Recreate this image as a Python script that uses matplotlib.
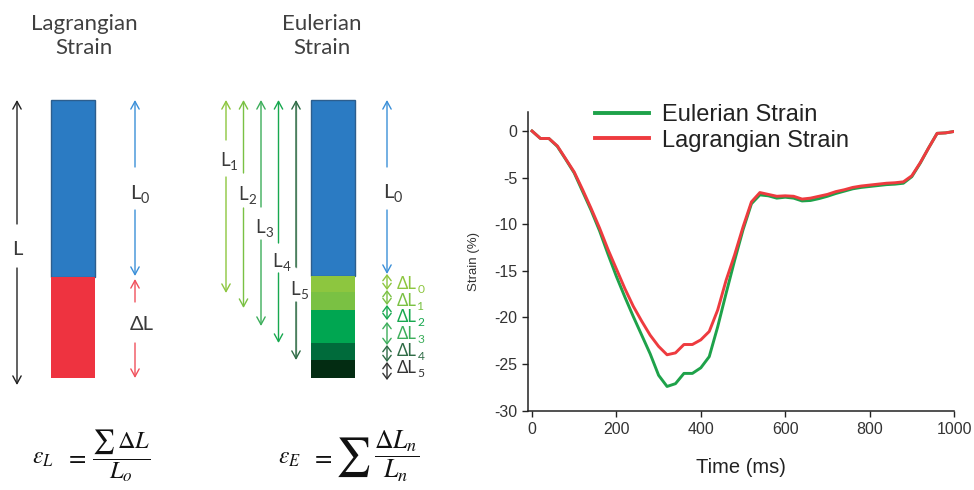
import matplotlib
matplotlib.use("Agg")
import matplotlib.pyplot as plt

# ---------------- data ----------------
time_ms = [0, 20, 40, 60, 80, 100, 120, 140, 160, 180, 200, 220, 240, 260, 280, 300,
           320, 340, 360, 380, 400, 420, 440, 460, 480, 500, 520, 540, 560, 580, 600,
           620, 640, 660, 680, 700, 720, 740, 760, 780, 800, 820, 840, 860, 880, 900,
           920, 940, 960, 980, 1000]
lagrangian = [0, -0.8, -0.8, -1.6, -3.0, -4.4, -6.3, -8.3, -10.4, -12.7, -14.8, -16.9,
              -18.8, -20.4, -21.9, -23.1, -24.0, -23.8, -22.9, -22.9, -22.4, -21.5,
              -19.2, -16.0, -13.3, -10.3, -7.6, -6.6, -6.8, -7.0, -6.95, -7.0, -7.3,
              -7.2, -7.0, -6.8, -6.5, -6.3, -6.05, -5.9, -5.8, -5.7, -5.6, -5.55, -5.45,
              -4.8, -3.4, -1.8, -0.25, -0.2, -0.05]
eulerian = [0, -0.8, -0.8, -1.65, -3.05, -4.5, -6.5, -8.5, -10.7, -13.2, -15.6, -17.8,
            -19.9, -21.9, -23.9, -26.2, -27.4, -27.1, -26.0, -26.0, -25.4, -24.2,
            -21.0, -17.4, -13.9, -10.6, -7.8, -6.85, -6.95, -7.2, -7.1, -7.2, -7.5,
            -7.45, -7.25, -7.0, -6.7, -6.45, -6.2, -6.05, -5.95, -5.85, -5.75, -5.7,
            -5.6, -4.9, -3.45, -1.8, -0.25, -0.2, -0.05]
series_labels = ["Eulerian Strain", "Lagrangian Strain"]
x_ticks = [0, 200, 400, 600, 800, 1000]
y_ticks = [0, -5, -10, -15, -20, -25, -30]

euler_arrow_subs = ["1", "2", "3", "4", "5"]
delta_subs = ["0", "1", "2", "3", "4", "5"]

# ---------------- figure ----------------
W, H = 974, 490
fig = plt.figure(figsize=(W / 100, H / 100), dpi=100)
plt.rcParams['mathtext.fontset'] = 'stix'
renderer = fig.canvas.get_renderer()

# drawing canvas in pixel units
ax0 = fig.add_axes([0, 0, 1, 1])
ax0.set_xlim(0, W)
ax0.set_ylim(H, 0)
ax0.axis('off')

TXT = '#3a3a3a'
DFONT = ['Lato', 'DejaVu Sans']
MATHC = '#111111'

BLUE = '#2b7bc3'
BLUE_EDGE = '#2d5e8e'
RED = '#ee3340'
GREENS = ['#8dc63f', '#7ac143', '#00a651', '#006b3b', '#032c12']
ARROW_GREENS = ['#8dc63f', '#7ac143', '#3dae5b', '#17a84f', '#8fae9a']
DELTA_COLORS = ['#8dc63f', '#7ac143', '#17a84f', '#3dae5b', '#2e6b45', '#333333']


def arrow(x, y_from, y_to, color, lw=1.0, hl=0.55, hw=0.3):
    ax0.annotate('', xy=(x, y_to), xytext=(x, y_from),
                 arrowprops=dict(arrowstyle=f'->,head_length={hl},head_width={hw}',
                                 color=color, lw=lw, shrinkA=0, shrinkB=0,
                                 mutation_scale=10))


def gap_arrow(x, top, bottom, g0, g1, color, lw=1.0, head_color=None):
    arrow(x, g0, top, head_color or color, lw)
    arrow(x, g1, bottom, head_color or color, lw)
    if head_color:
        ax0.plot([x, x], [top + 3, g0], color=color, lw=lw)
        ax0.plot([x, x], [g1, bottom - 3], color=color, lw=lw)


def dbl_arrow(x, top, bottom, color, lw=1.0):
    ax0.annotate('', xy=(x, bottom), xytext=(x, top),
                 arrowprops=dict(arrowstyle='<->,head_length=0.4,head_width=0.3',
                                 color=color, lw=lw, shrinkA=0, shrinkB=0,
                                 mutation_scale=10))


def rect(x0, y0, x1, y1, fc, ec='none', lw=0):
    ax0.add_patch(plt.Rectangle((x0, y0), x1 - x0, y1 - y0, facecolor=fc,
                                edgecolor=ec, linewidth=lw))


def sub_text(x, y, main, sub, size, color, ha='center'):
    t = ax0.text(0, y, main, ha='left', va='center', fontsize=size, color=color,
                 family=DFONT)
    s = ax0.text(0, y + size * 0.42, sub, ha='left', va='center',
                 fontsize=size * 0.72, color=color, family=DFONT)
    w1 = t.get_window_extent(renderer).width
    w2 = s.get_window_extent(renderer).width
    total = w1 + w2
    x0 = x - total / 2 if ha == 'center' else x
    t.set_x(x0)
    s.set_x(x0 + w1 + 0.5)


# ---- Lagrangian diagram ----
ax0.text(84, 36, "Lagrangian\nStrain", ha='center', va='center', fontsize=16,
         color='#404040', family=DFONT, linespacing=1.2)
rect(51, 100, 95, 277, BLUE, BLUE_EDGE, 1.0)
rect(51, 277, 95, 378, RED)
gap_arrow(17, 100, 385, 224, 268, '#222222')
ax0.text(17, 249, "L", ha='center', va='center', fontsize=14.5, color=TXT, family=DFONT)
gap_arrow(135, 100, 276, 167, 210, '#3b8fd8')
sub_text(139, 193, "L", "0", 14.5, TXT)
gap_arrow(135, 279, 378, 302, 343, '#f0505c')
ax0.text(142, 324, "ΔL", ha='center', va='center', fontsize=14.5, color=TXT,
         family=DFONT)
ax0.text(43, 457, r'$\varepsilon_L$', ha='center', va='center', fontsize=17,
         color=MATHC)
ax0.text(76, 457, r'$=$', ha='center', va='center', fontsize=18, color=MATHC)
ax0.text(121, 456, r'$\dfrac{\sum\,\Delta L}{L_o}$', ha='center',
         va='center', fontsize=17.5, color=MATHC)

# ---- Eulerian diagram ----
ax0.text(322, 36, "Eulerian\nStrain", ha='center', va='center', fontsize=16,
         color='#404040', family=DFONT, linespacing=1.2)
bar_x0, bar_x1 = 311, 355
seg_bounds = [276, 292, 310, 343, 360, 378]
rect(bar_x0, 100, bar_x1, 276, BLUE, BLUE_EDGE, 1.0)
for i in range(5):
    rect(bar_x0, seg_bounds[i], bar_x1, seg_bounds[i + 1], GREENS[i])

arrow_x = [226, 243.5, 261, 278.5, 296]
arrow_end = [293, 308, 326, 343, 360]
arrow_gaps = [(140, 177), (173, 208), (207, 240), (243, 273), (267, 302)]
label_y = [160, 194, 227, 261, 289]
for i in range(5):
    if i < 4:
        gap_arrow(arrow_x[i], 100, arrow_end[i], arrow_gaps[i][0], arrow_gaps[i][1],
                  ARROW_GREENS[i])
    else:
        gap_arrow(arrow_x[i], 100, arrow_end[i], arrow_gaps[i][0], arrow_gaps[i][1],
                  ARROW_GREENS[i], head_color='#2e6b45')
    sub_text(arrow_x[i] + 3, label_y[i], "L", euler_arrow_subs[i], 13.5, TXT)

gap_arrow(387, 100, 274, 167, 210, '#3b8fd8')
sub_text(392, 192, "L", "0", 14.5, TXT)
d_bounds = [(274, 290), (290, 305), (305, 320), (322, 345), (345, 362), (362, 380)]
d_label_y = [284, 301, 317, 334, 351, 368]
for i in range(6):
    dbl_arrow(387, d_bounds[i][0], d_bounds[i][1], DELTA_COLORS[i], lw=1.0)
    sub_text(397, d_label_y[i], "ΔL", delta_subs[i], 12, DELTA_COLORS[i], ha='left')

ax0.text(289, 457, r'$\varepsilon_E$', ha='center', va='center', fontsize=17,
         color=MATHC)
ax0.text(322, 457, r'$=$', ha='center', va='center', fontsize=18, color=MATHC)
ax0.text(353, 457, r'$\sum$', ha='center', va='center', fontsize=28, color=MATHC)
ax0.text(397, 456, r'$\dfrac{\Delta L_n}{L_n}$', ha='center', va='center',
         fontsize=18.5, color=MATHC)

# ---------------- chart ----------------
L, R, T, B = 528.3, 954, 112, 410.7
ax = fig.add_axes([L / W, 1 - B / H, (R - L) / W, (B - T) / H])
CF = ['Liberation Sans', 'DejaVu Sans']
ax.plot(time_ms, eulerian, color='#1ea24a', lw=2.1, label=series_labels[0],
        solid_joinstyle='round')
ax.plot(time_ms, lagrangian, color='#ee3b3f', lw=2.1, label=series_labels[1],
        solid_joinstyle='round')
ax.set_xlim(-8.8, 1000)
ax.set_ylim(-30, 2.04)
ax.set_xticks(x_ticks)
ax.set_yticks(y_ticks)
ax.set_xticklabels([str(v) for v in x_ticks], family=CF, fontsize=11.5, color='#333333')
ax.set_yticklabels([str(v) for v in y_ticks], family=CF, fontsize=11.5, color='#333333')
for s in ['top', 'right']:
    ax.spines[s].set_visible(False)
for s in ['left', 'bottom']:
    ax.spines[s].set_color('#222222')
    ax.spines[s].set_linewidth(1.1)
ax.tick_params(direction='out', length=4, width=1.0, color='#222222', pad=4)
ax.set_xlabel("Time (ms)", family=CF, fontsize=14.5, color='#222222', labelpad=15)
ax.set_ylabel("Strain (%)", family=CF, fontsize=9.5, color='#333333', labelpad=10)
ax.patch.set_alpha(0)
leg = ax.legend(loc='upper left', bbox_to_anchor=(0.128, 1.066), frameon=False,
                prop=dict(family=CF, size=17), handlelength=2.3, handletextpad=0.55,
                labelspacing=0.15, borderpad=0)
for t in leg.get_texts():
    t.set_color('#222222')
for l in leg.get_lines():
    l.set_linewidth(2.8)

fig.savefig("out.png", dpi=100)
